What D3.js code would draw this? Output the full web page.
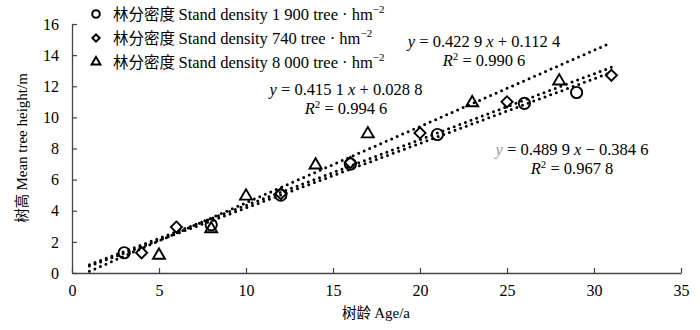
<!DOCTYPE html>
<html>
<head>
<meta charset="utf-8">
<script src="https://cdn.jsdelivr.net/npm/d3@7"></script>
<style>
  body { margin: 0; background: #fff; }
  text { font-family: "Liberation Serif", "Times New Roman", serif; fill: #000; }
  .cjk { font-family: "Noto Sans CJK SC", sans-serif; }
</style>
</head>
<body>
<div id="chart"></div>
<script>
// data
var ages1900 = [3, 8, 12, 16, 21, 26, 29];
var height1900 = [1.3, 3.1, 5, 7, 8.9, 10.9, 11.6];
var ages740 = [4, 6, 12, 16, 20, 25, 31];
var height740 = [1.3, 2.95, 5.1, 7.1, 9, 11, 12.7];
var ages8000 = [5, 8, 10, 14, 17, 23, 28];
var height8000 = [1.2, 2.9, 5, 7, 9, 11, 12.4];

// fitted lines (slope, intercept) from the equations
var fits = [[0.4229, 0.1124], [0.4151, 0.0288], [0.4899, -0.3846]];
var fitStart = 1, fitEnd = 31;

var xTicks = [0, 5, 10, 15, 20, 25, 30, 35];
var yTicks = [0, 2, 4, 6, 8, 10, 12, 14, 16];
var legendNames = ["1 900", "740", "8 000"];

var width = 700, height = 330;
var svg = d3.select("#chart").append("svg")
    .attr("width", width)
    .attr("height", height);

var x = d3.scaleLinear().domain([0, 35]).range([72, 681]);
var y = d3.scaleLinear().domain([0, 16]).range([273, 24]);

// axes, ticks point inward
var xAxis = svg.append("g")
    .attr("transform", "translate(0," + y(0) + ")")
    .call(d3.axisBottom(x).tickValues(xTicks).tickSizeInner(-5).tickSizeOuter(0).tickPadding(12));
var yAxis = svg.append("g")
    .attr("transform", "translate(" + x(0) + ",0)")
    .call(d3.axisLeft(y).tickValues(yTicks).tickSizeInner(-5).tickSizeOuter(0).tickPadding(13));
[xAxis, yAxis].forEach(function(ax) {
  ax.select(".domain").attr("stroke", "#444").attr("stroke-width", 1.3);
  ax.selectAll(".tick line").attr("stroke", "#444").attr("stroke-width", 1.2);
  ax.selectAll(".tick text").attr("font-size", 16)
    .style("font-family", "Liberation Serif, serif");
});

// axis titles
var xt = svg.append("text")
    .attr("x", 376).attr("y", 318)
    .attr("text-anchor", "middle")
    .attr("font-size", 15);
xt.append("tspan").attr("class", "cjk").attr("font-size", 14.5).text("树龄 ");
xt.append("tspan").text("Age/a");

var yt = svg.append("text")
    .attr("transform", "translate(27,148) rotate(-90)")
    .attr("text-anchor", "middle")
    .attr("font-size", 15);
yt.append("tspan").attr("class", "cjk").attr("font-size", 14.5).text("树高 ");
yt.append("tspan").text("Mean tree height/m");

// dotted fit lines
var plot = svg.append("g");
fits.forEach(function(f) {
  plot.append("line")
      .attr("x1", x(fitStart)).attr("y1", y(f[0] * fitStart + f[1]))
      .attr("x2", x(fitEnd)).attr("y2", y(f[0] * fitEnd + f[1]))
      .attr("stroke", "#000")
      .attr("stroke-width", 3)
      .attr("stroke-linecap", "round")
      .attr("stroke-dasharray", "0 6");
});

// marker shapes
var circleSym = d3.symbol().type(d3.symbolCircle);
var diamondSym = d3.symbol().type(d3.symbolSquare);
var triSym = d3.symbol().type(d3.symbolTriangle);

function drawSeries(ages, vals, sym, size, rot, dy) {
  plot.selectAll(null)
      .data(ages)
      .enter().append("path")
      .attr("d", sym.size(size))
      .attr("transform", function(d, i) {
        return "translate(" + x(d) + "," + (y(vals[i]) + dy) + ") rotate(" + rot + ")";
      })
      .attr("fill", "none")
      .attr("stroke", "#000")
      .attr("stroke-width", 1.9);
}
drawSeries(ages1900, height1900, circleSym, 100, 0, 0);
drawSeries(ages740, height740, diamondSym, 62, 45, 0);
drawSeries(ages8000, height8000, triSym, 62, 0, 1);

// legend
var legend = svg.append("g");
var legendSyms = [[circleSym, 45, 0], [diamondSym, 26, 45], [triSym, 34, 0]];
legendNames.forEach(function(name, i) {
  var ly = 15 + i * 24;
  legend.append("path")
      .attr("d", legendSyms[i][0].size(legendSyms[i][1]))
      .attr("transform", "translate(96," + (ly - 1) + ") rotate(" + legendSyms[i][2] + ")")
      .attr("fill", "none")
      .attr("stroke", "#000")
      .attr("stroke-width", 2);
  var t = legend.append("text")
      .attr("x", 113).attr("y", ly + 5)
      .attr("font-size", 16.5);
  t.append("tspan").attr("class", "cjk").attr("font-size", 15.5).text("林分密度 ");
  t.append("tspan").text("Stand density " + name + " tree · hm");
  t.append("tspan").attr("font-size", 11).attr("dy", -7).text("−2");
});

// equation labels
function equation(xc, yc, slope, inter, r2, grayY) {
  var t = svg.append("text")
      .attr("x", xc).attr("y", yc)
      .attr("text-anchor", "middle")
      .attr("font-size", 16.5);
  t.append("tspan").attr("font-style", "italic")
      .style("fill", grayY ? "#999" : "#000").text("y");
  t.append("tspan").text(" = " + slope + " ");
  t.append("tspan").attr("font-style", "italic").text("x");
  t.append("tspan").text(inter);
  var r = svg.append("text")
      .attr("x", xc).attr("y", yc + 19)
      .attr("text-anchor", "middle")
      .attr("font-size", 16.5);
  r.append("tspan").attr("font-style", "italic").text("R");
  r.append("tspan").attr("font-size", 11).attr("dy", -6).text("2");
  r.append("tspan").attr("dy", 6).text(" = " + r2);
}
equation(484, 47, "0.422 9", " + 0.112 4", "0.990 6", false);
equation(346, 95, "0.415 1", " + 0.028 8", "0.994 6", false);
equation(572, 155, "0.489 9", " − 0.384 6", "0.967 8", true);
</script>
</body>
</html>
